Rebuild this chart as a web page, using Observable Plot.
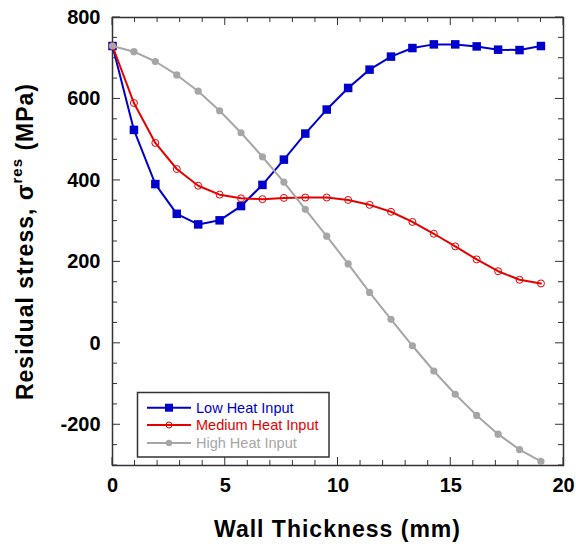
<!DOCTYPE html>
<html>
<head>
<meta charset="utf-8">
<script src="https://cdn.jsdelivr.net/npm/d3@7"></script>
<script src="https://cdn.jsdelivr.net/npm/@observablehq/plot@0.6"></script>
<style>
  body { margin: 0; background: #fff; }
  #chart { width: 576px; height: 546px; }
</style>
</head>
<body>
<div id="chart"></div>
<script>
// Wall thickness positions (mm) of the measurement points
const thickness = [0, 0.95, 1.9, 2.85, 3.8, 4.75, 5.7, 6.65, 7.6, 8.55, 9.5,
                   10.45, 11.4, 12.35, 13.3, 14.25, 15.2, 16.15, 17.1, 18.05, 19.0];

// Residual stress (MPa) for each heat input level
const lowHeat    = [730, 524, 391, 318, 292, 302, 337, 389, 451, 515, 574,
                    627, 672, 704, 725, 734, 734, 729, 721, 720, 730];
const mediumHeat = [730, 590, 492, 428, 387, 365, 356, 354, 357, 358, 358,
                    352, 340, 323, 298, 269, 238, 206, 177, 156, 147];
const highHeat   = [730, 716, 692, 659, 619, 571, 517, 458, 396, 329, 263,
                    195, 125, 59, -6, -68, -125, -177, -223, -261, -290];

const seriesNames = ["Low Heat Input", "Medium Heat Input", "High Heat Input"];
const seriesColors = ["#0000cc", "#e60000", "#a6a6a6"];

const xTicks = [0, 5, 10, 15, 20];
const xMinorTicks = d3.range(0, 21, 1);
const yTicks = [-200, 0, 200, 400, 600, 800];
const yMinorTicks = d3.range(-300, 801, 50);

const rows = (vals) => thickness.map((x, i) => ({x, y: vals[i]}));
const low = rows(lowHeat), med = rows(mediumHeat), high = rows(highHeat);

const font = "'Liberation Sans', Arial, sans-serif";
const axisStroke = "#333";

const chart = Plot.plot({
  width: 576,
  height: 546,
  marginTop: 17,
  marginRight: 13,
  marginBottom: 81,
  marginLeft: 112,
  style: {fontFamily: font, background: "#fff", overflow: "visible"},
  x: {domain: [0, 20]},
  y: {domain: [-300, 800]},
  marks: [
    // tick labels
    Plot.axisX(xTicks, {anchor: "bottom", tickSize: 0, tickPadding: 12, label: null,
      tickFormat: d => String(d), fill: "#000", fontSize: 20, fontWeight: "bold"}),
    Plot.axisY(yTicks, {anchor: "left", tickSize: 0, tickPadding: 12, label: null,
      tickFormat: d => String(d), fill: "#000", fontSize: 20, fontWeight: "bold"}),
    Plot.frame({stroke: axisStroke, strokeWidth: 1.5}),
    // series
    Plot.line(low, {x: "x", y: "y", stroke: seriesColors[0], strokeWidth: 2}),
    Plot.dot(low, {x: "x", y: "y", symbol: "square", r: 4.8, fill: seriesColors[0]}),
    Plot.line(med, {x: "x", y: "y", stroke: seriesColors[1], strokeWidth: 2}),
    Plot.dot(med, {x: "x", y: "y", symbol: "circle", r: 3.5, stroke: seriesColors[1], strokeWidth: 1, fill: "none"}),
    Plot.line(high, {x: "x", y: "y", stroke: seriesColors[2], strokeWidth: 2}),
    Plot.dot(high, {x: "x", y: "y", symbol: "circle", r: 3.6, fill: seriesColors[2]})
  ]
});

document.getElementById("chart").appendChild(chart);

const svg = d3.select(chart);
const sx = chart.scale("x"), sy = chart.scale("y");
const [x0, x1] = sx.range, [y0, y1] = sy.range; // y0 = bottom, y1 = top

// inward ticks on all four sides, positioned through the plot's scales
const ticks = svg.insert("g", ":first-child + *").attr("stroke", axisStroke).attr("stroke-width", 1);
function xTick(v, len) {
  const px = sx.apply(v);
  ticks.append("line").attr("x1", px).attr("x2", px).attr("y1", y0).attr("y2", y0 - len);
  ticks.append("line").attr("x1", px).attr("x2", px).attr("y1", y1).attr("y2", y1 + len);
}
function yTick(v, len) {
  const py = sy.apply(v);
  ticks.append("line").attr("y1", py).attr("y2", py).attr("x1", x0).attr("x2", x0 + len);
  ticks.append("line").attr("y1", py).attr("y2", py).attr("x1", x1).attr("x2", x1 - len);
}
xMinorTicks.forEach(v => xTick(v, xTicks.includes(v) ? 8 : 5));
yMinorTicks.forEach(v => yTick(v, yTicks.includes(v) ? 8 : 5));

// x-axis title
svg.append("text")
  .attr("x", 337.5).attr("y", 536.5)
  .attr("text-anchor", "middle")
  .attr("font-family", font).attr("font-size", 23).attr("font-weight", "bold")
  .attr("letter-spacing", 1)
  .attr("fill", "#000")
  .text("Wall Thickness (mm)");

// y-axis title with superscript
const yTitle = svg.append("text")
  .attr("transform", "translate(33,241.5) rotate(-90)")
  .attr("text-anchor", "middle")
  .attr("font-family", font).attr("font-size", 23).attr("font-weight", "bold")
  .attr("letter-spacing", 1)
  .attr("fill", "#000");
yTitle.append("tspan").text("Residual stress, σ");
yTitle.append("tspan").attr("font-size", 15).attr("dy", -11).text("res");
yTitle.append("tspan").attr("dy", 11).text(" (MPa)");

// legend box
const legend = svg.append("g").attr("font-family", font).attr("text-anchor", "start");
legend.append("rect")
  .attr("x", 137.5).attr("y", 392.5).attr("width", 191.5).attr("height", 64.5)
  .attr("fill", "#fff").attr("stroke", axisStroke).attr("stroke-width", 1.5);
const rowY = [407.7, 425, 443];
seriesNames.forEach((name, i) => {
  const g = legend.append("g").attr("transform", `translate(0,${rowY[i]})`);
  g.append("line").attr("x1", 147).attr("x2", 191).attr("y1", 0).attr("y2", 0)
    .attr("stroke", seriesColors[i]).attr("stroke-width", 2);
  if (i === 0) {
    g.append("rect").attr("x", 165).attr("y", -4).attr("width", 8).attr("height", 8)
      .attr("fill", seriesColors[i]);
  } else if (i === 1) {
    g.append("circle").attr("cx", 169).attr("cy", 0).attr("r", 3)
      .attr("fill", "none").attr("stroke", seriesColors[i]).attr("stroke-width", 1);
  } else {
    g.append("circle").attr("cx", 169).attr("cy", 0).attr("r", 3.2)
      .attr("fill", seriesColors[i]);
  }
  g.append("text").attr("x", 196).attr("y", 0).attr("dy", "0.35em")
    .attr("text-anchor", "start")
    .attr("font-size", 14.5).attr("fill", seriesColors[i]).text(name);
});
</script>
</body>
</html>
